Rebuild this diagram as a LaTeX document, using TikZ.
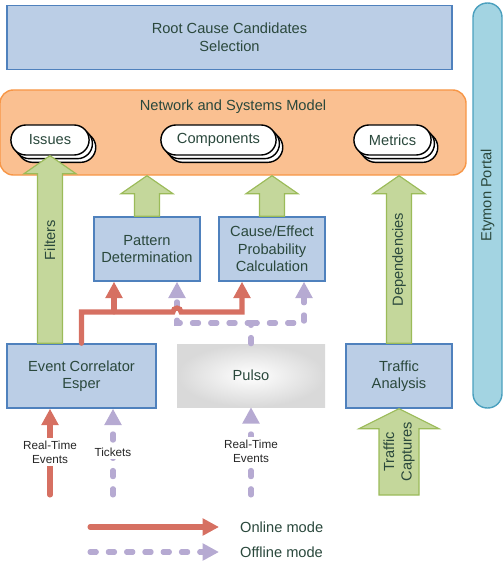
\documentclass[tikz,border=0pt]{standalone}
\usepackage{fontspec}
\setmainfont{Liberation Sans}
\usetikzlibrary{arrows.meta, calc, shapes.misc, shadows}
\definecolor{textc}{RGB}{42,72,60}
\definecolor{boxfill}{RGB}{187,206,230}
\definecolor{boxdraw}{RGB}{79,129,189}
\definecolor{modelfill}{RGB}{250,192,145}
\definecolor{modeldraw}{RGB}{247,150,70}
\definecolor{portalfill}{RGB}{163,212,226}
\definecolor{portaldraw}{RGB}{75,160,190}
\definecolor{greenfill}{RGB}{196,215,155}
\definecolor{greendraw}{RGB}{155,187,89}
\definecolor{onlinec}{RGB}{214,112,98}
\definecolor{offlinec}{RGB}{182,170,210}
\begin{document}
\begin{tikzpicture}[x=0.03cm,y=-0.03cm,txt/.style={font=\fontsize{12.5}{15}\selectfont, text=textc, align=center},box/.style={txt, draw=boxdraw, fill=boxfill, line width=1.2pt, minimum height=1.92cm, inner sep=2pt},pill/.style={txt, rounded rectangle, draw=black, fill=white, line width=1.2pt, minimum height=0.9cm, double copy shadow={shadow xshift=0.1cm, shadow yshift=-0.11cm}},model/.style={draw=modeldraw, fill=modelfill, line width=1.2pt, rounded corners=0.4cm, minimum width=13.98cm, minimum height=2.55cm},portal/.style={draw=portaldraw, fill=portalfill, line width=1.2pt, rounded corners=0.43cm, minimum width=0.87cm, minimum height=12.15cm},fatarrow/.style={draw=greendraw, fill=greenfill, line width=1pt},fat/.style n args={3}{to path={($(\tikztostart)+(-#1,0)$) -- ($(\tikztotarget)+(-#1,#3)$) -- ($(\tikztotarget)+(-#2,#3)$) -- (\tikztotarget) -- ($(\tikztotarget)+(#2,#3)$) -- ($(\tikztotarget)+(#1,#3)$) -- ($(\tikztostart)+(#1,0)$) -- cycle}},fattext/.style={txt, rotate=90},online/.style={draw=onlinec, line width=4.3pt, line cap=round, -{Triangle[width=14pt,length=14pt]}},offline/.style={draw=offlinec, line width=4.3pt, line cap=round, dash pattern=on 5.4pt off 10.2pt, -{Triangle[width=14pt,length=14pt]}},inlabel/.style={font=\fontsize{10}{12}\selectfont, text=black!85, fill=white, align=center, inner sep=2pt}]
\useasboundingbox (0,0) rectangle (503,572);
% top and right
\node[box, minimum width=13.35cm] (root) at (229.5,37.5) {Root Cause Candidates\\Selection};
\node[portal] (portal) at (487.5,205.5) {};
\node[fattext] (portaltext) at ($(portal.center)+(0,-10)$) {Etymon Portal};
% model with its three stacks
\node[model] (model) at (233,132.5) {};
\node[txt, anchor=north] (modeltitle) at ($(model.north)+(0,6)$) {Network and Systems Model};
\node[pill, minimum width=2.58cm] (issues) at (50,140) {Issues};
\node[pill, minimum width=3.69cm] (components) at (218.5,140) {Components};
\node[pill, minimum width=2.55cm] (metrics) at (392.5,140) {Metrics};
% processing boxes
\node[box, minimum width=3.18cm] (pd) at (147,249) {Pattern\\Determination};
\node[box, minimum width=3.18cm] (ce) at (272,249) {Cause/Effect\\Probability\\Calculation};
\node[box, minimum width=4.47cm] (ec) at (81.5,376) {Event Correlator\\Esper};
\node[txt, inner color=white, outer color=gray!30, minimum width=4.44cm, minimum height=1.89cm] (pulso) at (251,375.5) {Pulso};
\node[box, minimum width=3.18cm] (ta) at (399,376) {Traffic\\Analysis};
% green block arrows
\draw[fatarrow, fat={12.5}{26}{18}] (issues.south |- ec.north) to (issues.south);
\draw[fatarrow, fat={12.5}{26}{18}] (pd.north) to (pd.north |- model.south);
\draw[fatarrow, fat={12.5}{26}{18}] (ce.north) to (ce.north |- model.south);
\draw[fatarrow, fat={12.5}{26}{18}] (ta.north) to (ta.north |- model.south);
\node[fattext] (filters) at ($(issues.south |- ec.north)!0.55!(issues.south)$) {Filters};
\node[fattext] (deps) at ($(ta.north)!0.5!(ta.north |- model.south)$) {Dependencies};
% online and offline flows
\draw[offline] (pulso.north) -- (pulso.north |- 0,323) -| (177,0 |- pd.south);
\draw[offline] (pulso.north |- 0,323) -| (304,0 |- ce.south);
\draw[online] (ec.north) |- (173,312) arc[start angle=180,end angle=360,radius=4] -- (242,312) -- (242,0 |- ce.south);
\draw[online] (114,312) -- (114,0 |- pd.south);
% inputs
\coordinate (rtin) at (50,495); \coordinate (tkin) at (113,495); \coordinate (psin) at (251,495); \coordinate (tcin) at (399,495);
\draw[online] (rtin) -- node[inlabel] {Real-Time\\Events} (rtin |- ec.south);
\draw[offline] (tkin) -- node[inlabel] {Tickets} (tkin |- ec.south);
\draw[offline] (psin) -- node[inlabel] {Real-Time\\Events} (psin |- pulso.south);
\draw[fatarrow, fat={20}{40}{20}] (tcin) to (tcin |- ta.south);
\node[fattext] (captures) at ($(tcin)!0.5!(tcin |- ta.south)$) {Traffic\\Captures};
% legend
\node[txt, anchor=west] (ontext) at (236,527) {Online mode};
\node[txt, anchor=west] (offtext) at (236,552) {Offline mode};
\coordinate (onstart) at (90,527); \coordinate (offstart) at (90,552);
\draw[online] (onstart) -- ($(ontext.west)+(-17,0)$);
\draw[offline] (offstart) -- ($(offtext.west)+(-17,0)$);
\end{tikzpicture}
\end{document}
